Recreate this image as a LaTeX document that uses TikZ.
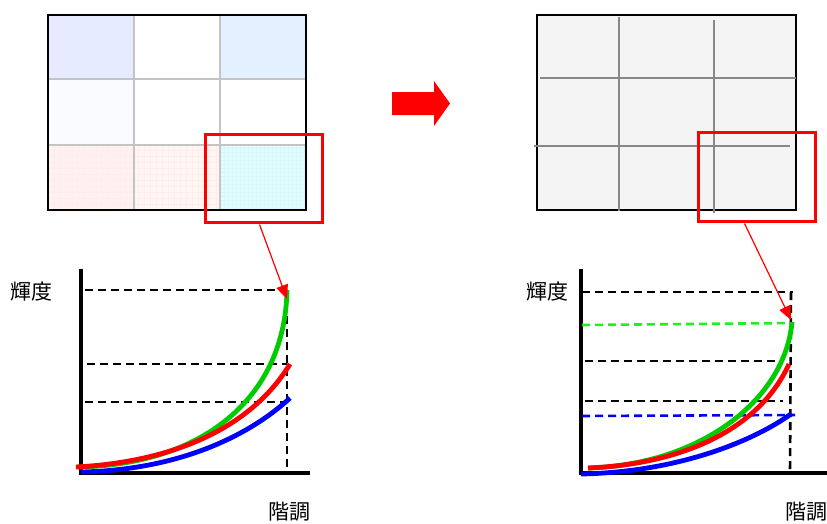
\documentclass[tikz,border=0pt]{standalone}
\usepackage{fontspec}
\newfontfamily\cjk{Noto Sans CJK JP}
\usetikzlibrary{arrows.meta}
\definecolor{cTL}{HTML}{E6EBFF}
\definecolor{cTR}{HTML}{E2F0FF}
\definecolor{cML}{HTML}{FAFBFF}
\definecolor{cBL}{HTML}{FFF2EE}
\definecolor{cBM}{HTML}{FFF5F1}
\definecolor{cBR}{HTML}{DDFFFF}
\definecolor{panelgray}{HTML}{F4F4F4}
\definecolor{lgrid}{HTML}{C4C4C4}
\definecolor{dgrid}{HTML}{888888}
\definecolor{cgreen}{HTML}{00CC00}
\definecolor{cred}{HTML}{FF0000}
\definecolor{cblue}{HTML}{0000FF}
\definecolor{lgreen}{HTML}{22EE22}
\tikzset{
  panel/.style={draw=black,line width=1.6pt,inner sep=0pt},
  selbox/.style={draw=red,line width=3pt,inner sep=0pt},
  axis/.style={line width=3.5pt,black},
  guide/.style={dash pattern=on 8pt off 5pt,line width=2.6pt,black},
  curve/.style={line width=4.8pt},
  pointer/.style={red,line width=1.2pt,-{Triangle[length=14pt,width=12pt]}},
  label/.style={font=\cjk\fontsize{21}{23}\selectfont,inner sep=0pt},
  lgl/.style={lgrid,line width=2.2pt},
  dgl/.style={dgrid,line width=2.2pt},
}
\begin{document}
\begin{tikzpicture}[x=1pt,y=-1pt]
\useasboundingbox (0,0) rectangle (827,523);
% ---- left screen ----
\fill[cTL] (48,15) rectangle (134,79);
\fill[white] (134,15) rectangle (220,79);
\fill[cTR] (220,15) rectangle (306,79);
\fill[cML] (48,79) rectangle (134,145);
\fill[white] (134,79) rectangle (306,145);
\fill[cBL] (48,145) rectangle (134,210);
\fill[cBM] (134,145) rectangle (220,210);
\fill[cBR] (220,145) rectangle (306,210);
\begin{scope}
\clip (48,145) rectangle (220,210);
\draw[red!7,line width=0.6pt,step=6pt] (48,140) grid (220,215);
\end{scope}
\begin{scope}
\clip (220,145) rectangle (306,210);
\draw[cyan!14,line width=0.6pt,step=4pt] (216,140) grid (306,215);
\end{scope}
\draw[lgl] (134,15) -- (134,210);
\draw[lgl] (220,15) -- (220,210);
\draw[lgl] (48,79) -- (306,79);
\draw[lgl] (48,145) -- (306,145);
\node[panel,minimum width=258pt,minimum height=195pt] (lscreen) at (177,112.5) {};
\node[selbox,minimum width=117pt,minimum height=88pt] (lsel) at (263.5,178) {};
% ---- block arrow ----
\coordinate (bigarrow) at (392,103.5);
\fill[red] (bigarrow) ++(0,-11.5) -- ++(42,0) -- ++(0,-11) -- (450,103.5)
  -- (434,126) -- ++(0,-11) -- (392,115) -- cycle;
% ---- right screen ----
\node[panel,fill=panelgray,minimum width=259pt,minimum height=195pt] (rscreen) at (666.5,112.5) {};
\draw[dgl] (619,17) -- (619,211);
\draw[dgl] (714,20) -- (714,213);
\draw[dgl] (540,78) -- (796,78);
\draw[dgl] (534,146) -- (790,146);
\node[selbox,minimum width=117pt,minimum height=89pt] (rsel) at (756.5,176.5) {};
% ---- left chart ----
\node[label] (lylab) at (31,292) {輝度};
\node[label] (lxlab) at (289,512) {階調};
\coordinate (lo) at (81,473);
\coordinate (ltop) at (81,269);
\coordinate (lend) at (310,473);
\draw[axis] (ltop) -- (lo) -- (lend);
\draw[guide] (85,290) -- (287,290);
\draw[guide] (87,364) -- (287,364);
\draw[guide] (85,402) -- (287,402);
\draw[guide] (287,290) -- (287,473);
\draw[curve,cblue] (81,472) .. controls (180,470) and (250,435) .. (290,398);
\draw[curve,cgreen] (78,467) .. controls (200,465) and (285,400) .. (287,290);
\draw[curve,cred] (76,467) .. controls (170,462) and (250,430) .. (290,364);
\coordinate (ltip) at (287,299);
\draw[pointer] (lsel.south) ++(-4,1) -- (ltip);
% ---- right chart ----
\node[label] (rylab) at (547,292) {輝度};
\node[label] (rxlab) at (806,512) {階調};
\coordinate (ro) at (581,473);
\coordinate (rtop) at (581,269);
\coordinate (rend) at (827,473);
\draw[axis] (rtop) -- (ro) -- (rend);
\draw[guide] (582,292) -- (793,292);
\draw[guide,lgreen] (582,325) -- (792,323);
\draw[guide] (585,361) -- (783,361);
\draw[guide] (585,401) -- (783,401);
\draw[guide,cblue] (582,416) -- (795,415);
\draw[guide] (791,292) -- (790,473);
\draw[curve,cblue] (581,474) .. controls (680,472) and (755,440) .. (791,414);
\draw[curve,cgreen] (588,468) .. controls (700,465) and (785,400) .. (792,322);
\draw[curve,cred] (588,468) .. controls (685,464) and (760,428) .. (789,364);
\coordinate (rtip) at (791,320);
\draw[pointer] (rsel.south) ++(-12,1) -- (rtip);
\end{tikzpicture}
\end{document}
